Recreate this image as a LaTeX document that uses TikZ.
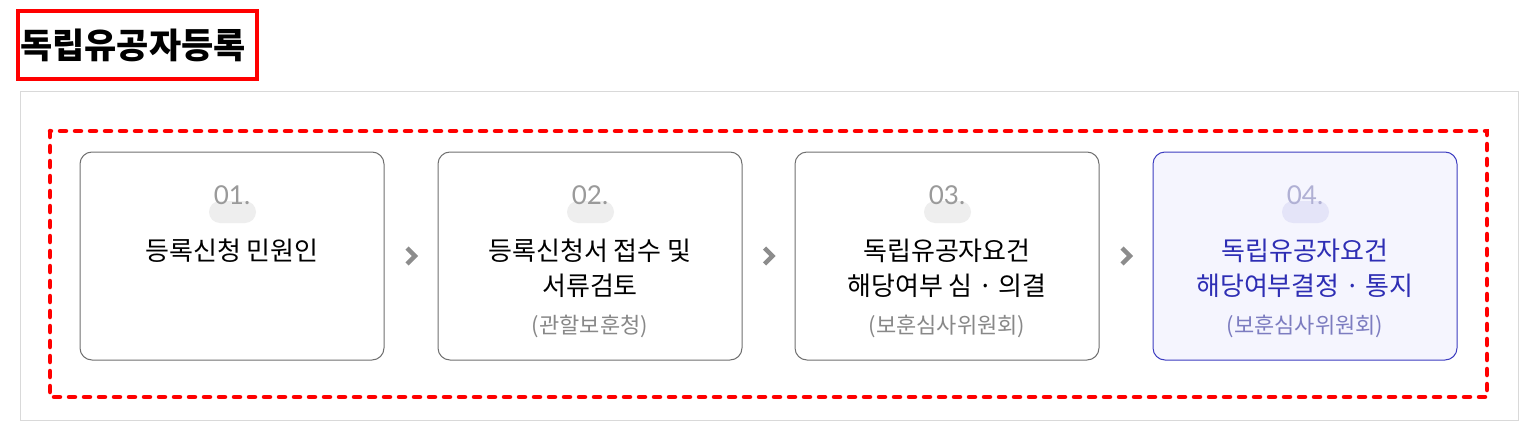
\documentclass[tikz,border=0pt]{standalone}
\usepackage{fontspec}
\newfontfamily\kr{Noto Sans CJK KR}
\newfontfamily\numfont{Lato}
\usetikzlibrary{calc}
\definecolor{boxgray}{HTML}{707070}
\definecolor{outergray}{HTML}{D9D9D9}
\definecolor{numgray}{HTML}{9A9A9A}
\definecolor{pillgray}{HTML}{EEEEEE}
\definecolor{subgray}{HTML}{888888}
\definecolor{chevgray}{HTML}{8C8C8C}
\definecolor{bluetext}{HTML}{2E2EB4}
\definecolor{blueborder}{HTML}{3C3CC0}
\definecolor{bluefill}{HTML}{F5F5FE}
\definecolor{bluenum}{HTML}{B0B0D4}
\definecolor{bluepill}{HTML}{E4E4F8}
\definecolor{bluesub}{HTML}{7C7CC0}
\definecolor{hred}{HTML}{FF0000}
\tikzset{
  stepbox/.style={draw=boxgray, line width=1pt, rounded corners=12pt, minimum width=304pt, minimum height=208pt, fill=white, inner sep=0pt},
  activebox/.style={stepbox, draw=blueborder, fill=bluefill},
  pill/.style={fill=pillgray, draw=none, rounded corners=11pt, minimum width=47pt, minimum height=22pt, inner sep=0pt},
  numtext/.style={font=\numfont\fontsize{26}{30}\selectfont, text=numgray, anchor=base, inner sep=0pt},
  maintext/.style={font=\kr\fontsize{26}{30}\selectfont, text=black, anchor=base, inner sep=0pt},
  subtext/.style={font=\kr\fontsize{22}{26}\selectfont, text=subgray, anchor=base, inner sep=0pt},
  chev/.style={draw=chevgray, line width=4.5pt, line join=miter},
}
\begin{document}
\begin{tikzpicture}[x=1pt,y=-1pt]
\useasboundingbox (0,0) rectangle (1529,439);
% title
\node[font=\kr\bfseries\fontsize{35}{40}\selectfont, anchor=base west, inner sep=0pt] (title) at (20,58) {독립유공자등록};
\draw[hred, line width=4pt] (18,11) rectangle (257,79);
% outer frame
\draw[outergray, line width=1pt] (20.5,91.5) rectangle (1518.5,420.5);
% dashed frame
\draw[hred, line width=4.5pt, dash pattern=on 6pt off 9pt, line cap=round] (50,131) rectangle (1487,397);
% boxes
\node[stepbox] (b1) at (232,256) {};
\node[stepbox] (b2) at (590,256) {};
\node[stepbox] (b3) at (947,256) {};
\node[activebox] (b4) at (1305,256) {};
% pills and numbers
\foreach \b/\n/\pc/\nc in {b1/01./pillgray/numgray, b2/02./pillgray/numgray, b3/03./pillgray/numgray, b4/04./bluepill/bluenum}{
  \node[pill, fill=\pc] (\b p) at ($(\b.north)+(0.5,60.5)$) {};
  \node[numtext, text=\nc] (\b n) at ($(\b.north)+(0,53)$) {\n};
}
% texts
\node[maintext] (b1l1) at ($(b1.north)+(0,109)$) {등록신청 민원인};
\node[maintext] (b2l1) at ($(b2.north)+(0,109)$) {등록신청서 접수 및};
\node[maintext] (b2l2) at ($(b2.north)+(0,144)$) {서류검토};
\node[subtext] (b2s) at ($(b2.north)+(0,182)$) {(관할보훈청)};
\node[maintext] (b3l1) at ($(b3.north)+(0,109)$) {독립유공자요건};
\node[maintext] (b3l2) at ($(b3.north)+(0,144)$) {해당여부 심 · 의결};
\node[subtext] (b3s) at ($(b3.north)+(0,182)$) {(보훈심사위원회)};
\node[maintext, text=bluetext] (b4l1) at ($(b4.north)+(0,109)$) {독립유공자요건};
\node[maintext, text=bluetext] (b4l2) at ($(b4.north)+(0,144)$) {해당여부결정 · 통지};
\node[subtext, text=bluesub] (b4s) at ($(b4.north)+(0,182)$) {(보훈심사위원회)};
% chevrons
\foreach \a/\c in {b1/b2, b2/b3, b3/b4}{
  \coordinate (m\a) at ($(\a.east)!0.5!(\c.west)$);
  \draw[chev] ($(m\a)+(-4,-8)$) -- ($(m\a)+(4,0)$) -- ($(m\a)+(-4,8)$);
}
\end{tikzpicture}
\end{document}
